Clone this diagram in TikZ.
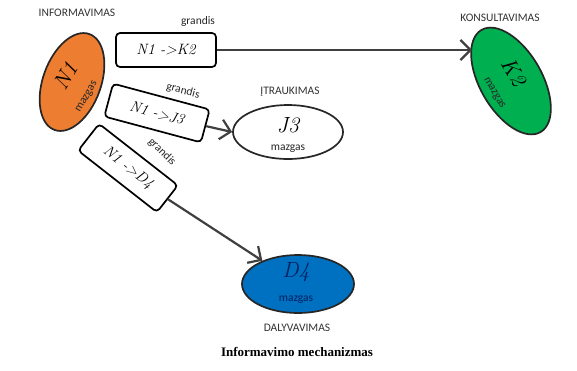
\documentclass[tikz,border=0pt]{standalone}
\usepackage{fontspec}
\newfontfamily\kalibri{Carlito}
\newfontfamily\antraste{Liberation Serif}
\usetikzlibrary{shapes.geometric,arrows.meta}
\definecolor{oranzine}{RGB}{237,125,49}
\definecolor{zalia}{RGB}{0,176,80}
\definecolor{melyna}{RGB}{0,112,192}
\definecolor{tamsimelyna}{RGB}{0,32,96}
\definecolor{jungtis}{RGB}{64,64,64}

\begin{document}
\begin{tikzpicture}[x=1pt,y=-1pt,
                        mazgas/.style={ellipse,draw=black!85,line width=1.7pt,inner sep=0pt},
                        grandis/.style={draw=black,line width=1.7pt,rounded corners=4pt,fill=white,
                            minimum width=100pt,minimum height=34pt,inner sep=0pt,
                            font=\itshape\fontsize{15}{15}\selectfont},
                        rysys/.style={draw=jungtis,line width=2.2pt,
                            -{Straight Barb[length=10pt,width=20pt,line width=2.2pt]}},
                        vaidmuo/.style={font=\kalibri\fontsize{11.5}{11.5}\selectfont,text=black!80},
                        zyme/.style={font=\kalibri\fontsize{11.5}{11.5}\selectfont,text=black!85,inner sep=0pt},
                        vardas/.style={font=\itshape\fontsize{22}{22}\selectfont,inner sep=0pt}]
                        \useasboundingbox (0,0) rectangle (577,370);

                        \node[mazgas,fill=oranzine,minimum width=58pt,minimum height=102pt,rotate=-20] (n1) at (72,82) {};
                        \node[vardas,rotate=60] (n1vardas) at (66,76) {N1};
                        \node[zyme,rotate=60] (n1mazgas) at (87,97) {mazgas};
                        \node[vaidmuo] (informavimas) at (77,13) {INFORMAVIMAS};

                        \node[mazgas,fill=zalia,minimum width=62pt,minimum height=118pt,rotate=30] (k2) at (511,81) {};
                        \node[vardas,rotate=-60] (k2vardas) at (514,72) {K2};
                        \node[zyme,rotate=-60] (k2mazgas) at (494,93) {mazgas};
                        \node[vaidmuo] (konsultavimas) at (500,18) {KONSULTAVIMAS};

                        \node[mazgas,fill=white,minimum width=110pt,minimum height=54pt] (j3) at (288,132) {};
                        \node[vardas] (j3vardas) at (288,125) {J3};
                        \node[zyme] (j3mazgas) at (288,149) {mazgas};
                        \node[vaidmuo] (itraukimas) at (290,92) {ĮTRAUKIMAS};

                        \node[mazgas,fill=melyna,minimum width=112pt,minimum height=58pt] (d4) at (298,284) {};
                        \node[vardas,text=tamsimelyna] (d4vardas) at (296,272) {D4};
                        \node[zyme,text=tamsimelyna] (d4mazgas) at (296,300) {mazgas};
                        \node[vaidmuo] (dalyvavimas) at (297,328) {DALYVAVIMAS};

                        \node[grandis] (g12) at (166,50) {N1 ->K2};
                        \node[zyme] (g12zyme) at (198,21) {grandis};
                        \node[grandis,rotate=-15] (g13) at (157,113) {N1 ->J3};
                        \node[zyme,rotate=-15] (g13zyme) at (183,91) {grandis};
                        \node[grandis,rotate=-38] (g14) at (128,168) {N1 ->D4};
                        \node[zyme,rotate=-45] (g14zyme) at (162,152) {grandis};

                        \coordinate (k2taskas) at (472,50);

                        \draw[rysys] (g12.east) -- (k2taskas);
                        \draw[rysys] (g13.east) -- (j3.west);
                        \draw[rysys] (g14.east) -- (d4);

                        \node[font=\antraste\bfseries\fontsize{13}{13}\selectfont] (pavadinimas) at (297,352) {Informavimo mechanizmas};
                    \end{tikzpicture}
\end{document}
